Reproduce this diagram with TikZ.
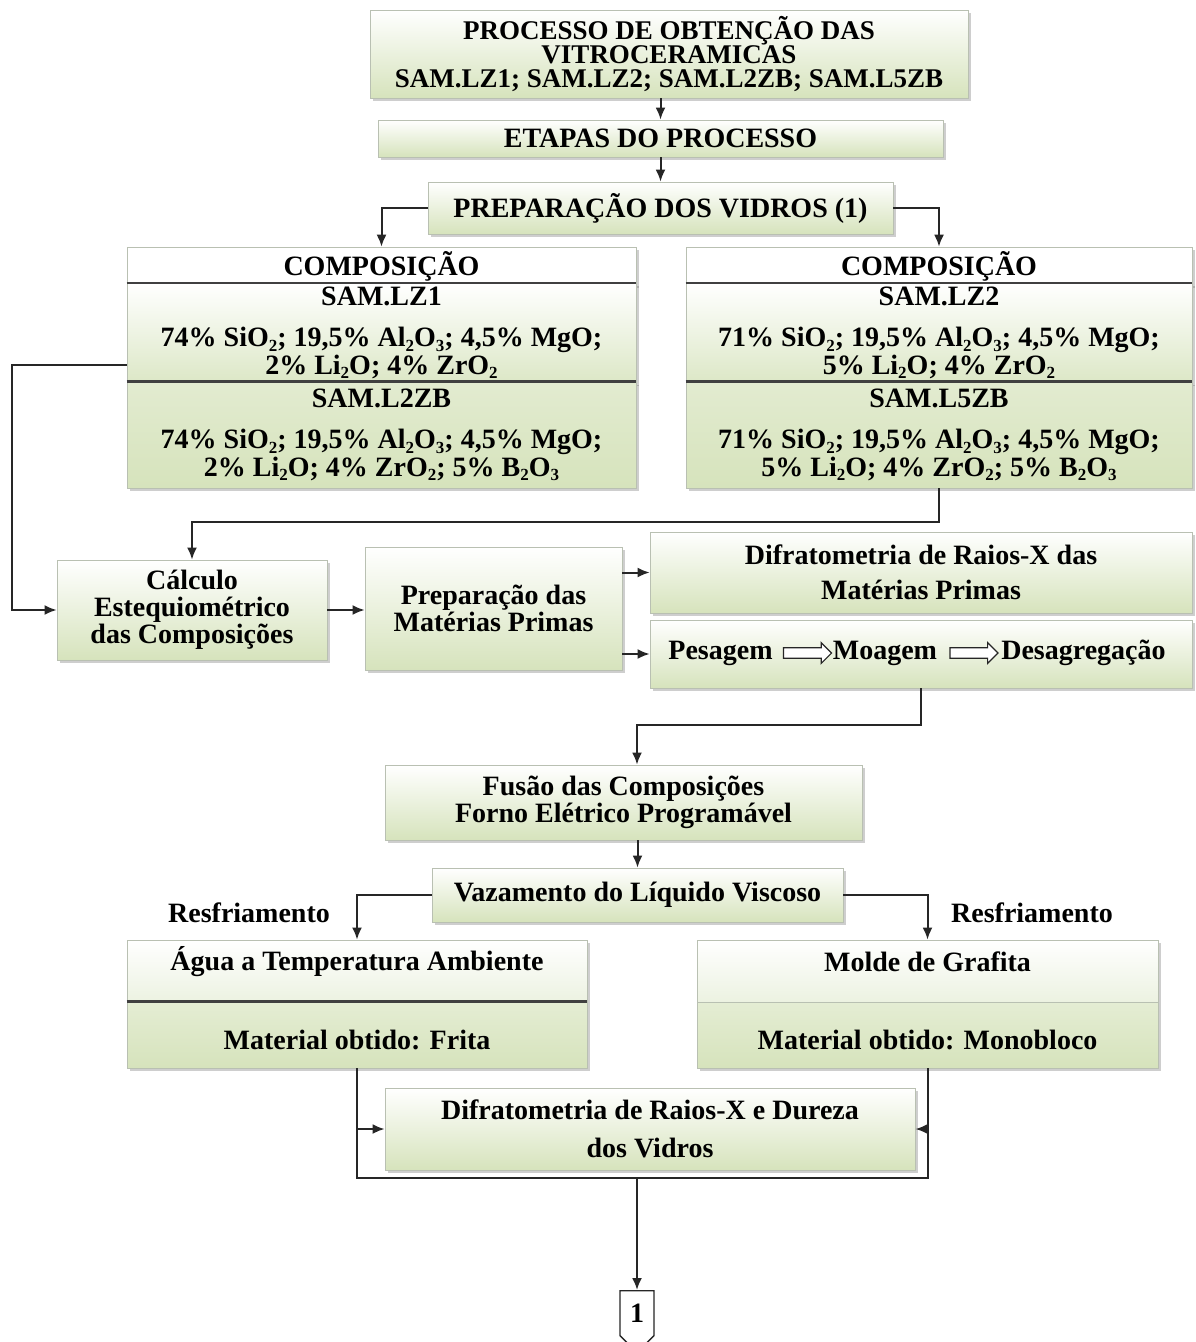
\documentclass[tikz,border=0pt]{standalone}
\usepackage{fontspec}
\setmainfont{Liberation Serif}
\usetikzlibrary{shadows,shapes.arrows,shapes.symbols,positioning,calc,arrows.meta}
\definecolor{gr}{RGB}{214,227,188}
\definecolor{grl}{RGB}{236,242,225}
\definecolor{bord}{RGB}{185,192,178}
\newcommand{\sbs}[1]{\raisebox{-0.35ex}{\fontsize{8.5}{8.5}\selectfont #1}}
\begin{document}
\begin{tikzpicture}[x=0.5pt,y=-0.5pt,
  fnt/.style={font=\fontsize{14}{13.5}\selectfont\bfseries},
  txt/.style={fnt, align=center, inner sep=0pt},
  shad/.style={drop shadow={shadow xshift=1.5pt, shadow yshift=-1.5pt, opacity=0.35, fill=black!55}},
  box/.style={draw=bord, line width=0.4pt, top color=white, bottom color=gr, shad, inner sep=2pt, align=center, fnt},
  hdr/.style={draw=bord, line width=0.4pt, fill=white, shad, inner sep=2pt, align=center, fnt},
  rowa/.style={draw=bord, line width=0.4pt, top color=white, bottom color=gr!85, shad, inner sep=2pt, align=center, font=\fontsize{14}{11.5}\selectfont\bfseries},
  rowb/.style={draw=bord, line width=0.4pt, top color=gr!70, bottom color=gr, shad, inner sep=2pt, align=center, font=\fontsize{14}{11.5}\selectfont\bfseries},
  conn/.style={line width=1pt, black!85},
  arr/.style={conn, -{Latex[length=6pt,width=5pt]}},
  divider/.style={line width=1.2pt, black!75},
  sarrow/.style={single arrow, draw=black!85, line width=0.6pt, fill=white, inner xsep=0pt, inner ysep=2.3pt, single arrow head extend=2.6pt, minimum height=24pt},
]
\useasboundingbox (0,0) rectangle (1195,1342);

% top
\node[box, minimum width=299pt, minimum height=44pt, font=\fontsize{13.5}{12}\selectfont\bfseries] (title) at (669,54)
  {PROCESSO DE OBTENÇÃO DAS\\VITROCERAMICAS\\SAM.LZ1; SAM.LZ2; SAM.L2ZB; SAM.L5ZB};
\node[box, minimum width=282.5pt, minimum height=18.5pt] (etapas) at (660.5,138.5) {ETAPAS DO PROCESSO};
\node[box, minimum width=232.5pt, minimum height=26pt] (prep) at (660.5,208) {PREPARAÇÃO DOS VIDROS (1)};

% composition left
\node[hdr, minimum width=254.5pt, minimum height=18pt] (hdrL) at (381.5,266) {COMPOSIÇÃO};
\node[rowa, minimum width=254.5pt, minimum height=49pt] (lz1L) at (381.5,333)
  {SAM.LZ1\\[9pt]74\% SiO\sbs{2}; 19,5\% Al\sbs{2}O\sbs{3}; 4,5\% MgO;\\2\% Li\sbs{2}O; 4\% ZrO\sbs{2}};
\node[rowb, minimum width=254.5pt, minimum height=53pt] (l2zbL) at (381.5,435)
  {SAM.L2ZB\\[9pt]74\% SiO\sbs{2}; 19,5\% Al\sbs{2}O\sbs{3}; 4,5\% MgO;\\2\% Li\sbs{2}O; 4\% ZrO\sbs{2}; 5\% B\sbs{2}O\sbs{3}};
\draw[divider] (lz1L.north west) -- (lz1L.north east);
\draw[divider] (l2zbL.north west) -- (l2zbL.north east);

% composition right
\node[hdr, minimum width=253pt, minimum height=18pt] (hdrR) at (939,266) {COMPOSIÇÃO};
\node[rowa, minimum width=253pt, minimum height=49pt] (lz2R) at (939,333)
  {SAM.LZ2\\[9pt]71\% SiO\sbs{2}; 19,5\% Al\sbs{2}O\sbs{3}; 4,5\% MgO;\\5\% Li\sbs{2}O; 4\% ZrO\sbs{2}};
\node[rowb, minimum width=253pt, minimum height=53pt] (l5zbR) at (939,435)
  {SAM.L5ZB\\[9pt]71\% SiO\sbs{2}; 19,5\% Al\sbs{2}O\sbs{3}; 4,5\% MgO;\\5\% Li\sbs{2}O; 4\% ZrO\sbs{2}; 5\% B\sbs{2}O\sbs{3}};
\draw[divider] (lz2R.north west) -- (lz2R.north east);
\draw[divider] (l5zbR.north west) -- (l5zbR.north east);

% middle
\node[box, minimum width=135pt, minimum height=50pt] (calc) at (192,610) {Cálculo\\Estequiométrico\\das Composições};
\node[box, minimum width=128.5pt, minimum height=61.5pt] (prepmp) at (493.5,608.5) {Preparação das\\Matérias Primas};
\node[box, minimum width=271pt, minimum height=40.5pt] (difmp) at (921,572.5) {Difratometria de Raios-X das\\[4pt]Matérias Primas};
\node[box, minimum width=271pt, minimum height=34pt] (pes) at (921,654) {};
\node[txt, anchor=west] (tpes) at (668,653) {Pesagem};
\node[sarrow, right=5pt of tpes] (a1) {};
\node[txt, right=0pt of a1] (tmoa) {Moagem};
\node[sarrow, right=6pt of tmoa] (a2) {};
\node[txt, right=1pt of a2] (tdes) {Desagregação};

\node[box, minimum width=238.5pt, minimum height=37.5pt, font=\fontsize{14}{12.5}\selectfont\bfseries] (fusao) at (623.5,802.5) {Fusão das Composições\\Forno Elétrico Programável};
\node[box, minimum width=205.5pt, minimum height=27pt] (vaz) at (637.5,895) {Vazamento do Líquido Viscoso};
\node[txt] (resL) at (249,913) {Resfriamento};
\node[txt] (resR) at (1032,913) {Resfriamento};

% cooling boxes
\node[draw=bord, line width=0.4pt, top color=white, bottom color=grl, shad, minimum width=230pt, minimum height=31pt] (aguaT) at (357,971) {};
\node[draw=bord, line width=0.4pt, top color=gr!65, bottom color=gr, shad, minimum width=230pt, minimum height=33pt] (aguaB) at (357,1035) {};
\draw[divider] (aguaB.north west) -- (aguaB.north east);
\node[txt] (aguaTx) at (357,962) {Água a Temperatura Ambiente};
\node[txt] (aguaBx) at (357,1040) {Material obtido: Frita};

\node[draw=bord, line width=0.4pt, top color=white, bottom color=grl, shad, minimum width=230.5pt, minimum height=31pt] (moldeT) at (927.5,971) {};
\node[draw=bord, line width=0.4pt, top color=gr!65, bottom color=gr, shad, minimum width=230.5pt, minimum height=33pt] (moldeB) at (927.5,1035) {};
\node[txt] (moldeTx) at (927.5,962) {Molde de Grafita};
\node[txt] (moldeBx) at (927.5,1040) {Material obtido: Monobloco};

\node[box, minimum width=265pt, minimum height=41pt] (difv) at (650,1129) {Difratometria de Raios-X e Dureza\\[5.5pt]dos Vidros};

\node[draw=black!85, line width=0.7pt, fill=white, signal, signal to=south, signal from=nowhere, minimum width=17pt, minimum height=26pt, inner sep=0pt, anchor=north, font=\fontsize{14}{14}\selectfont\bfseries] (off) at (637,1290) {1};

% connectors
\coordinate (lbus) at (12,0);
\coordinate (rbus) at (0,522);
\coordinate (mbus) at (637,725);
\coordinate (bbus) at (0,1178);

\draw[arr] (etapas.north |- title.south) -- (etapas.north);
\draw[arr] (etapas.south) -- (prep.north);
\draw[arr] (prep.west) -| (hdrL.north);
\draw[arr] (prep.east) -| (hdrR.north);
\draw[arr] ([yshift=-16pt]lz1L.west) -| (lbus |- calc.west) -- (calc.west);
\draw[arr] (l5zbR.south) -- (l5zbR.south |- rbus) -| (calc.north);
\draw[arr] (calc.east) -- (calc.east -| prepmp.west);
\draw[arr] (prepmp.east |- difmp.west) -- (difmp.west);
\draw[arr] (prepmp.east |- pes.west) -- (pes.west);
\draw[arr] (pes.south) |- (mbus) -- (mbus |- fusao.north);
\draw[arr] (vaz.north |- fusao.south) -- (vaz.north);
\draw[arr] (vaz.west) -| (aguaT.north);
\draw[arr] (vaz.east) -| (moldeT.north);
\draw[conn] (aguaB.south) -- (aguaB.south |- bbus) -- (moldeB.south |- bbus) -- (moldeB.south);
\draw[arr] (aguaB.south |- difv.west) -- (difv.west);
\draw[arr] (moldeB.south |- difv.east) -- (difv.east);
\draw[arr] (off.north |- bbus) -- (off.north);
\end{tikzpicture}
\end{document}
